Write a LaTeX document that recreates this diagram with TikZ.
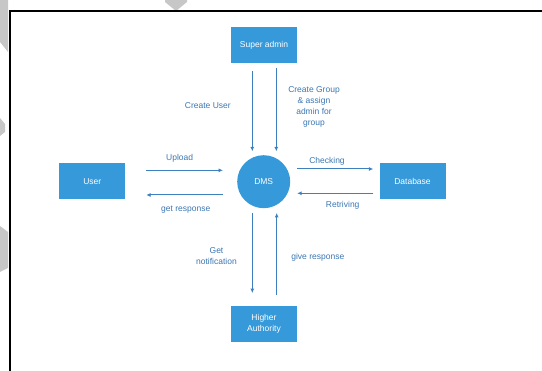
\documentclass[tikz,border=0pt]{standalone}
\usepackage{fontspec}
\setmainfont{Liberation Sans}
\usetikzlibrary{arrows.meta,calc}
\definecolor{boxblue}{RGB}{54,153,218}
\definecolor{lineblue}{RGB}{62,128,189}
\definecolor{txtblue}{RGB}{58,118,178}
\tikzset{
  box/.style={draw=none,fill=boxblue,text=white,minimum width=66pt,minimum height=36pt,inner sep=0pt,align=center,font=\fontsize{8.5}{11}\selectfont},
  hub/.style={circle,fill=boxblue,text=white,minimum size=53pt,inner sep=0pt,font=\fontsize{8.5}{11}\selectfont},
  arr/.style={draw=lineblue,line width=1pt,-{Latex[length=4.5pt,width=4pt]}},
  lbl/.style={text=txtblue,align=center,inner sep=0pt,font=\fontsize{8.5}{11}\selectfont},
  frame/.style={draw=black,line width=2.2pt},
  ghost/.style={fill=black!22,draw=none}
}
\begin{document}
\begin{tikzpicture}[x=1pt,y=-1pt]
\useasboundingbox (0,0) rectangle (542,371);
% background artefacts
\fill[ghost] (0,0) -- (8,0) -- (8,52) -- (0,42) -- cycle;
\fill[ghost] (165,0) -- (187,0) -- (187,2) -- (176,11) -- (165,2) -- cycle;
\fill[ghost] (0,226) -- (8,232) -- (8,268) -- (0,272) -- cycle;
\fill[ghost] (0,118) -- (5,124) -- (5,132) -- (0,136) -- cycle;
% frame
\draw[frame] (9.8,372) -- (9.8,11.2) -- (543,11.2);
% nodes
\node[box] (sa) at (264,45.5) {Super admin};
\node[box] (user) at (92.3,181.3) {User};
\node[box] (db) at (412.5,181.3) {Database};
\node[box] (ha) at (264,324) {Higher\\Authority};
\node[hub] (dms) at (263.7,181.7) {DMS};
% connectors
\draw[arr,shorten <=7.7pt,shorten >=3.6pt] ([xshift=-11.7pt]sa.south) -- ([xshift=-11.7pt]sa.south |- dms.north);
\draw[arr,shorten <=4.7pt,shorten >=3.6pt] ([xshift=12.3pt]sa.south) -- ([xshift=12.3pt]sa.south |- dms.north);
\draw[arr,shorten <=20.7pt,shorten >=14pt] ([yshift=11pt]user.east) -- ([yshift=11pt]user.east -| dms.west);
\draw[arr,shorten <=14pt,shorten >=20.7pt] ([yshift=-13.7pt]user.east -| dms.west) -- ([yshift=-13.7pt]user.east);
\draw[arr,shorten <=6.7pt,shorten >=6pt] ([yshift=12.3pt]db.west -| dms.east) -- ([yshift=12.3pt]db.west);
\draw[arr,shorten <=6pt,shorten >=6.7pt] ([yshift=-12pt]db.west) -- ([yshift=-12pt]db.west -| dms.east);
\draw[arr,shorten <=4.5pt,shorten >=12.7pt] ([xshift=-11.7pt]ha.north |- dms.south) -- ([xshift=-11.7pt]ha.north);
\draw[arr,shorten <=11pt,shorten >=4.5pt] ([xshift=12.7pt]ha.north) -- ([xshift=12.7pt]ha.north |- dms.south);
% labels
\node[lbl] (l1) at (207.8,106) {Create User};
\node[lbl] (l2) at (314,106.7) {Create Group\\\& assign\\admin for\\group};
\node[lbl] (l3) at (179.7,158.3) {Upload};
\node[lbl] (l4) at (185.7,210) {get response};
\node[lbl] (l5) at (327,161.7) {Checking};
\node[lbl] (l6) at (342.7,205.7) {Retriving};
\node[lbl] (l7) at (216.5,256.2) {Get\\notification};
\node[lbl] (l8) at (317.8,257.3) {give response};
\end{tikzpicture}
\end{document}
